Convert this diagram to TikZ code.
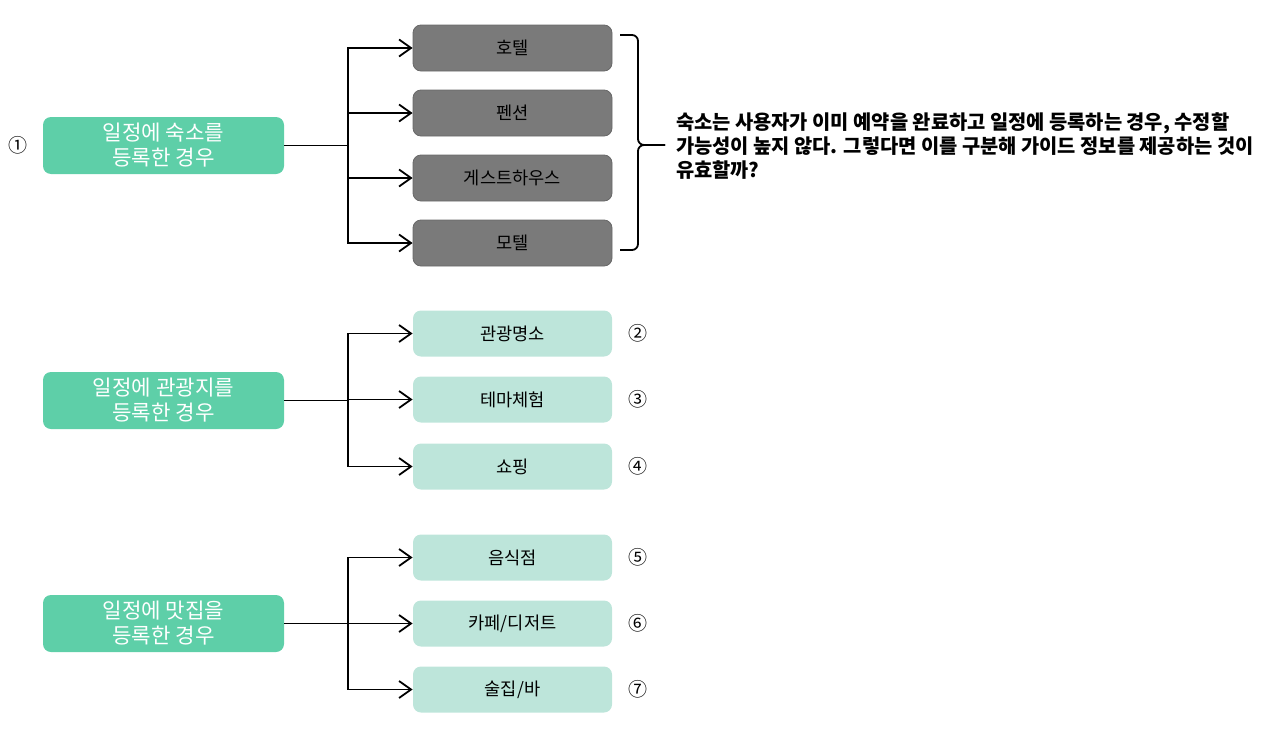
\documentclass[tikz,border=0pt]{standalone}
\usepackage{fontspec}
\setmainfont{Noto Sans CJK KR}
\usepackage{tikz}
\usetikzlibrary{arrows.meta}
\definecolor{mint}{RGB}{94,207,168}
\definecolor{palemint}{RGB}{189,229,218}
\definecolor{boxgray}{RGB}{122,122,122}
\tikzset{
	cat/.style={rectangle, rounded corners=4pt, fill=mint, text=white, inner sep=1pt,
		minimum width=120.5pt, minimum height=28.5pt, align=center,
		font=\fontsize{10.6}{12.5}\selectfont},
	stay/.style={rectangle, rounded corners=4pt, fill=boxgray, draw=boxgray!85!black,
		line width=0.4pt, minimum width=99.5pt, minimum height=23pt,
		font=\fontsize{8.8}{10}\selectfont},
	spot/.style={rectangle, rounded corners=4pt, fill=palemint,
		minimum width=99.5pt, minimum height=23pt,
		font=\fontsize{8.8}{10}\selectfont},
	num/.style={font=\fontsize{9.5}{10}\selectfont},
	link/.style={line width=0.9pt},
	>={Straight Barb[length=6pt,width=8.5pt]}
}

\begin{document}
\begin{tikzpicture}[x=0.5pt, y=-0.5pt]
	\useasboundingbox (0,0) rectangle (1280,739);

	\node[cat] (c_0) at (163.5,145.5) {일정에 숙소를\\등록한 경우};
	\node[cat] (c_1) at (163.5,400.5) {일정에 관광지를\\등록한 경우};
	\node[cat] (c_2) at (163.5,623.5) {일정에 맛집을\\등록한 경우};
	\node[num] (n_1) at (18,145) {①};

	\coordinate (t_0) at (348,145.5);
	\coordinate (t_1) at (348,400.5);
	\coordinate (t_2) at (348,623.5);

	\node[stay] (h_0) at (512.5,48) {호텔};
	\node[stay] (h_1) at (512.5,113) {펜션};
	\node[stay] (h_2) at (512.5,178) {게스트하우스};
	\node[stay] (h_3) at (512.5,243) {모텔};

	\node[spot] (s_0) at (512.5,333.5) {관광명소};
	\node[spot] (s_1) at (512.5,399.5) {테마체험};
	\node[spot] (s_2) at (512.5,466.5) {쇼핑};
	\node[num] (n_2) at (638,333.5) {②};
	\node[num] (n_3) at (638,399.5) {③};
	\node[num] (n_4) at (638,466.5) {④};

	\node[spot] (f_0) at (512.5,557.5) {음식점};
	\node[spot] (f_1) at (512.5,623.5) {카페/디저트};
	\node[spot] (f_2) at (512.5,689.5) {술집/바};
	\node[num] (n_5) at (638,557.5) {⑤};
	\node[num] (n_6) at (638,623.5) {⑥};
	\node[num] (n_7) at (638,689.5) {⑦};

	\draw[link] (c_0) -- (t_0);
	\draw[link] (c_1) -- (t_1);
	\draw[link] (c_2) -- (t_2);
	\foreach \i in {0,...,3}
		\draw[link, ->] (t_0) |- (h_\i);
	\foreach \i in {0,1,2}
		\draw[link, ->] (t_1) |- (s_\i);
	\foreach \i in {0,1,2}
		\draw[link, ->] (t_2) |- (f_\i);

	% brace round the lodging boxes
	\coordinate (b_top) at (620,35);
	\coordinate (b_bot) at (620,250);
	\coordinate (b_mid) at (638,145);
	\coordinate (b_tip) at (665,145);
	\draw[link, rounded corners=3pt] (b_top) -| (b_mid) -- (b_tip);
	\draw[link, rounded corners=3pt] (b_bot) -| (b_mid) -- (b_tip);

	\node[anchor=west, align=left, font=\bfseries\fontsize{9.9}{11.8}\selectfont]
			(note) at (669,146)
			{숙소는 사용자가 이미 예약을 완료하고 일정에 등록하는 경우, 수정할\\
			 가능성이 높지 않다. 그렇다면 이를 구분해 가이드 정보를 제공하는 것이\\
			 유효할까?};
\end{tikzpicture}
\end{document}
